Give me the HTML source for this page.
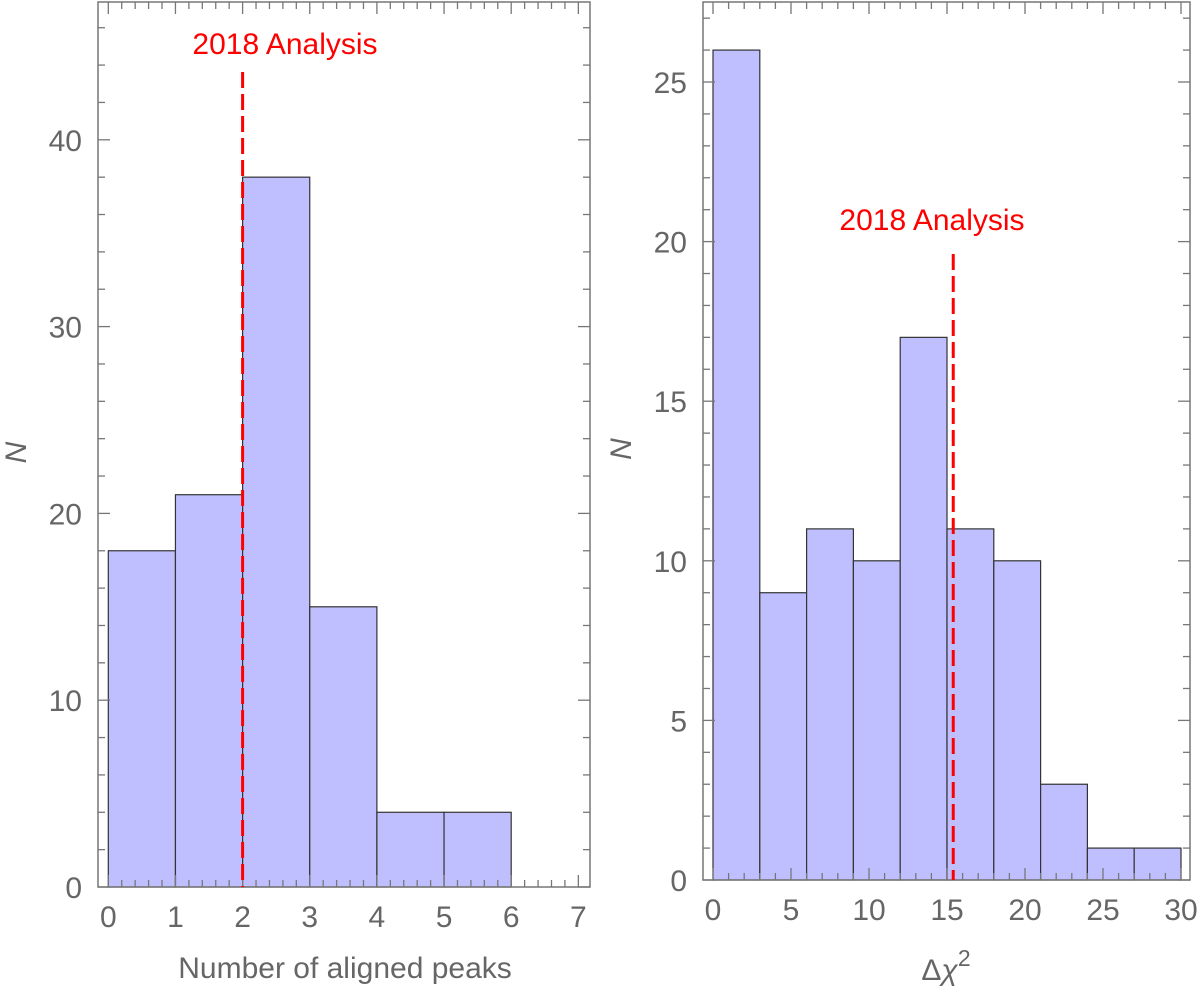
<!DOCTYPE html>
<html><head><meta charset="utf-8"><style>
body{margin:0;background:#fff;}
svg{display:block;font-family:"Liberation Sans",sans-serif;}
</style></head><body>
<svg id="c" width="1200" height="993"></svg>
<script>
const leftEdges=[0,1,2,3,4,5,6];
const leftCounts=[18,21,38,15,4,4];
const leftXTicks=[0,1,2,3,4,5,6,7];
const leftYTicks=[0,10,20,30,40];
const leftMarker=2;
const rightEdges=[0,3,6,9,12,15,18,21,24,27,30];
const rightCounts=[26,9,11,10,17,11,10,3,1,1];
const rightXTicks=[0,5,10,15,20,25,30];
const rightYTicks=[0,5,10,15,20,25];
const rightMarker=15.4;
const NS="http://www.w3.org/2000/svg";
const svg=document.getElementById('c');
function el(t,a,p){const e=document.createElementNS(NS,t);for(const k in a)e.setAttribute(k,a[k]);(p||svg).appendChild(e);return e;}
function panel(o){
 const g=el('g',{});
 
 
 const X=v=>o.x0+(v-o.xmin)*o.sx, Y=v=>o.y0-v*o.sy;
 for(let i=0;i<o.counts.length;i++){
  const r=el('rect',{x:X(o.edges[i]),y:Y(o.counts[i]),width:X(o.edges[i+1])-X(o.edges[i]),height:Y(0)-Y(o.counts[i]),fill:'#bfbfff',stroke:'#333','stroke-width':1.2},g);
  
  
 }
 const f=el('rect',{x:o.L,y:o.T,width:o.R-o.L,height:o.B-o.T,fill:'none',stroke:'#777','stroke-width':1.5},g);
 
 
 for(let v=o.xmin;v<=o.xmax+1e-9;v+=o.xminor){
  const major=Math.abs(v/o.xmajor-Math.round(v/o.xmajor))<1e-6;
  const len=major?12:7,x=X(v);
  el('line',{x1:x,y1:o.B,x2:x,y2:o.B-len,stroke:'#777','stroke-width':1.3},g);
  el('line',{x1:x,y1:o.T,x2:x,y2:o.T+len,stroke:'#777','stroke-width':1.3},g);
 }
 for(let v=0;v<=o.ymax+1e-9;v+=o.yminor){
  const major=Math.abs(v/o.ymajor-Math.round(v/o.ymajor))<1e-6;
  const len=major?12:7,y=Y(v);
  el('line',{x1:o.L,y1:y,x2:o.L+len,y2:y,stroke:'#777','stroke-width':1.3},g);
  el('line',{x1:o.R,y1:y,x2:o.R-len,y2:y,stroke:'#777','stroke-width':1.3},g);
 }
 o.xticks.forEach(v=>{const t=el('text',{x:X(v),y:o.B+40,'text-anchor':'middle','font-size':30,fill:'#666'},g);t.textContent=v;
  });
 o.yticks.forEach(v=>{const t=el('text',{x:o.L-16,y:Y(v)+11,'text-anchor':'end','font-size':30,fill:'#666'},g);t.textContent=v;
  });
 const mx=X(o.marker);
 const ml=el('line',{x1:mx,y1:o.mTop,x2:mx,y2:o.B,stroke:'#f00','stroke-width':3,'stroke-dasharray':'16,6'},g);
 
 
 const mt=el('text',{x:o.labX,y:o.labY,'text-anchor':'middle','font-size':30,fill:'#f00'},g);
 mt.textContent='2018 Analysis';
 
 
 const yl=el('text',{x:0,y:0,'text-anchor':'middle','font-size':30,fill:'#666','font-style':'italic',transform:`translate(${o.L-72},${(o.T+o.B)/2+8}) rotate(-90)`},g);
 yl.textContent='N';
 
 
 return {X,g};
}
const p1=panel({name:'left-histogram',L:98,R:590,T:2,B:887,x0:108.3,xmin:0,xmax:7.15,sx:67.15,y0:887,sy:18.68,ymax:47,
 xminor:0.2,xmajor:1,yminor:2,ymajor:10,edges:leftEdges,counts:leftCounts,xticks:leftXTicks,yticks:leftYTicks,marker:leftMarker,mTop:72,labX:285,labY:54});
const t1=el('text',{x:345,y:978,'text-anchor':'middle','font-size':30,fill:'#666'},p1.g);
t1.textContent='Number of aligned peaks';


const p2=panel({name:'right-histogram',L:703,R:1190,T:2,B:880,x0:713,xmin:0,xmax:30.6,sx:15.6,y0:880,sy:31.92,ymax:27.5,
 xminor:1,xmajor:5,yminor:1,ymajor:5,edges:rightEdges,counts:rightCounts,xticks:rightXTicks,yticks:rightYTicks,marker:rightMarker,mTop:254,labX:932,labY:230});
const t2=el('text',{x:946,y:980,'text-anchor':'middle','font-size':30,fill:'#666'},p2.g);
t2.innerHTML='Δ<tspan font-style="italic">χ</tspan><tspan dy="-14" font-size="23">2</tspan>';


</script>
</body></html>
